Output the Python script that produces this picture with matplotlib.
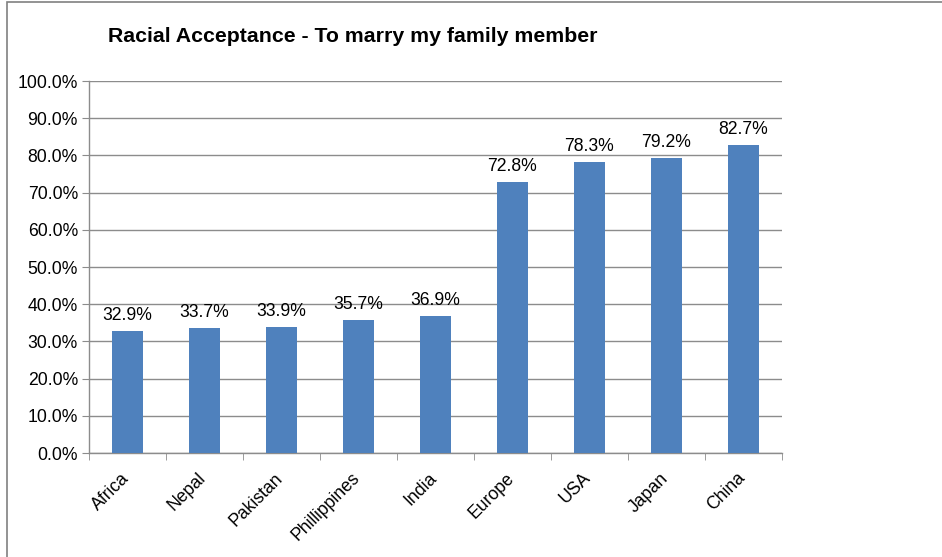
import matplotlib
matplotlib.use("Agg")
import matplotlib.pyplot as plt
import matplotlib.transforms as mtransforms
from matplotlib.patches import Rectangle
from matplotlib.ticker import FuncFormatter, MultipleLocator

categories = ["Africa", "Nepal", "Pakistan", "Phillippines", "India", "Europe", "USA", "Japan", "China"]
values = [32.9, 33.7, 33.9, 35.7, 36.9, 72.8, 78.3, 79.2, 82.7]
title = "Racial Acceptance - To marry my family member"

plt.rcParams['font.family'] = ['Liberation Sans', 'DejaVu Sans']

W, H = 942, 557
fig = plt.figure(figsize=(W / 100, H / 100), dpi=100)

# outer border
fig.patches.append(Rectangle((7 / W, -0.01), 1.05, 1 - 2 / H + 0.01, transform=fig.transFigure,
                             fill=False, edgecolor="#808080", linewidth=1.2))

x0, x1 = 89, 782
y0, y1 = 453, 81
ax = fig.add_axes([x0 / W, 1 - y0 / H, (x1 - x0) / W, (y0 - y1) / H])

bar_color = "#4F81BD"
xs = list(range(len(categories)))
ax.bar(xs, values, width=0.40, color=bar_color, zorder=3)
for x, v in zip(xs, values):
    ax.annotate(f"{v:.1f}%", (x, v), xytext=(0, 5), textcoords="offset points",
                ha="center", va="bottom", fontsize=12.7, color="#000000")

ax.set_xlim(-0.5, len(categories) - 0.5)
ax.set_ylim(0, 100)
ax.yaxis.set_major_locator(MultipleLocator(10))
ax.yaxis.set_major_formatter(FuncFormatter(lambda v, p: f"{v:.1f}%"))
ax.grid(axis="y", color="#8c8c8c", linewidth=1.0, zorder=0)
ax.set_axisbelow(True)

for s in ["top", "right"]:
    ax.spines[s].set_visible(False)
for s in ["left", "bottom"]:
    ax.spines[s].set_color("#8c8c8c")
    ax.spines[s].set_linewidth(1.0)

ax.set_xticks(xs)
ax.set_xticklabels(categories, rotation=45, ha="right", rotation_mode="anchor", fontsize=12.7)
ax.tick_params(axis="x", length=0, pad=12)
offset = mtransforms.ScaledTranslation(-7 / 100, 0, fig.dpi_scale_trans)
for lbl in ax.get_xticklabels():
    lbl.set_transform(lbl.get_transform() + offset)
ax.set_xticks([i - 0.5 for i in range(len(categories) + 1)], minor=True)
ax.tick_params(axis="x", which="minor", length=5, color="#8c8c8c", direction="out")
ax.tick_params(axis="y", length=5, color="#8c8c8c", labelsize=12.7, pad=3)

fig.text(108 / W, 1 - 37 / H, title, fontsize=15.3, fontweight="bold", ha="left", va="center")

fig.savefig("out.png", dpi=100, facecolor="white")
